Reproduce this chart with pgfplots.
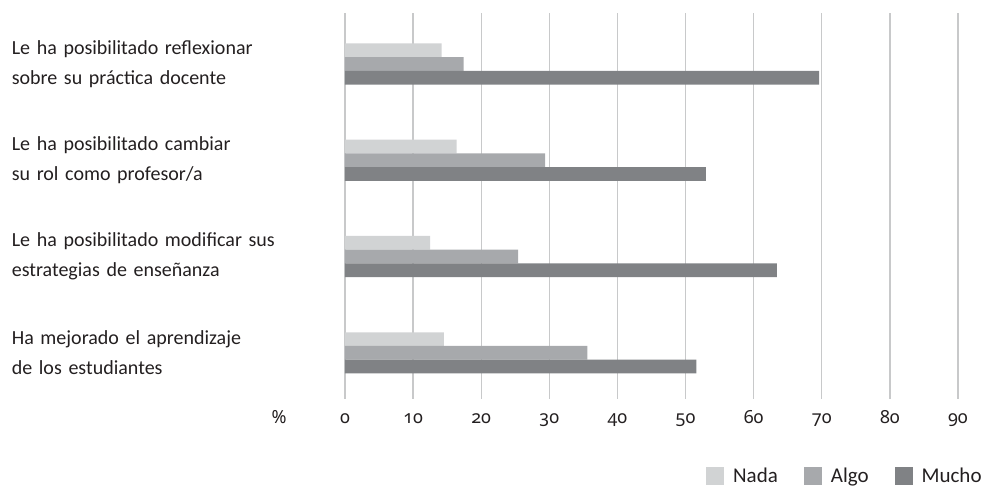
\documentclass[border=0pt]{standalone}
\usepackage{pgfplots}
\pgfplotsset{compat=1.18}
\usepackage{fontspec}
\setmainfont{Carlito}
\newfontfamily\numfont{Noto Sans}[Numbers=OldStyle]
\definecolor{nada}{HTML}{D1D3D4}
\definecolor{algo}{HTML}{A7A9AC}
\definecolor{mucho}{HTML}{808285}
\definecolor{gridc}{HTML}{C8C9CA}
\definecolor{txt}{HTML}{231F20}
\begin{document}
\begin{tikzpicture}
\begin{axis}[
  at={(345pt,-13pt)}, anchor=north west,
  scale only axis, width=613pt, height=386pt,
  xbar, bar width=13.7pt,
  xmin=0, xmax=90, ymin=0.47, ymax=4.48, y dir=reverse,
  xtick={0,10,...,90}, ytick={1,2,3,4},
  yticklabels={{Le ha posibilitado reflexionar\\sobre su práctica docente},
               {Le ha posibilitado cambiar\\su rol como profesor/a},
               {Le ha posibilitado modificar sus\\estrategias de enseñanza},
               {Ha mejorado el aprendizaje\\de los estudiantes}},
  xmajorgrids, major grid style={gridc, line width=1.4pt},
  axis line style={draw=none},
  major tick length=0pt,
  tick label style={font=\fontsize{20}{30}\selectfont, text=txt},
  xticklabel style={anchor=base, yshift=-24pt, font=\fontsize{18}{24}\numfont},
  yticklabel style={anchor=east, inner sep=0pt, text width=333pt, align=left},
  /pgf/number format/assume math mode=true,
  legend style={at={(1.047,-0.199)}, anchor=east, draw=none, fill=none,
    font=\fontsize{21}{24}\selectfont, text=txt, legend columns=3,
    /tikz/every odd column/.append style={column sep=7pt},
    /tikz/every even column/.append style={column sep=24pt},
    legend cell align=left},
  legend image code/.code={\fill[#1] (0pt,-9pt) rectangle (18pt,9pt);},
]
\addplot[fill=nada, draw=none, bar shift=13.7pt] coordinates {(14.2,1) (16.4,2) (12.5,3) (14.5,4)};
\addplot[fill=algo, draw=none, bar shift=0pt] coordinates {(17.4,1) (29.4,2) (25.4,3) (35.6,4)};
\addplot[fill=mucho, draw=none, bar shift=-13.7pt] coordinates {(69.6,1) (53.0,2) (63.4,3) (51.6,4)};
\legend{Nada, Algo, Mucho}
\end{axis}
\node[font=\fontsize{18}{24}\numfont, text=txt, anchor=base] at (279pt,-423pt) {\%};
\pgfresetboundingbox
\path (0pt,0pt) rectangle (989pt,-487pt);
\end{tikzpicture}
\end{document}
